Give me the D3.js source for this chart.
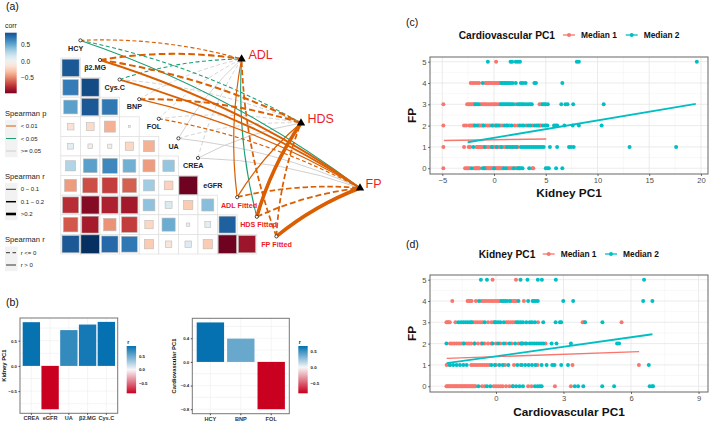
<!DOCTYPE html>
<html>
<head>
<meta charset="utf-8">
<script src="https://cdn.jsdelivr.net/npm/d3@7"></script>
<style>
  html, body { margin: 0; padding: 0; background: #fff; }
  svg { display: block; }
  text { font-family: "Liberation Sans", Arial, sans-serif; }
  .axis path { display: none; }
</style>
</head>
<body>
<svg id="fig" width="709" height="422"></svg>
<script>
// ---- data ----
const matrixVars = ["HCY", "β2.MG", "Cys.C", "BNP", "FOL", "UA", "CREA", "eGFR", "ADL Fitted", "HDS Fitted", "FP Fitted"];
const corrRows = [
  [0.85],
  [0.7, 0.9],
  [0.55, 0.85, 0.72],
  [-0.13, -0.18, -0.35, -0.01],
  [0.1, -0.06, -0.05, -0.2, -0.35],
  [0.3, 0.55, 0.65, 0.48, -0.42, 0.38],
  [-0.42, -0.65, -0.7, -0.6, 0.35, -0.22, -0.98],
  [-0.75, -0.92, -0.8, -0.83, 0.4, 0.14, -0.25, 0.42],
  [-0.62, -0.82, -0.45, -0.7, -0.2, 0.5, 0.03, 0.1, 0.82],
  [0.85, 1.0, 0.78, 0.72, -0.25, -0.12, 0.12, -0.25, -0.98, -0.85]
];
const outcomes = ["ADL", "HDS", "FP"];
// source, target, spearman r, p class
const links = [
  ["Cys.C", "HDS", -0.05, "ns"], ["BNP", "ADL", -0.04, "ns"], ["FOL", "ADL", -0.03, "ns"],
  ["FOL", "HDS", -0.04, "ns"], ["UA", "ADL", 0.04, "ns"], ["UA", "HDS", -0.04, "ns"],
  ["UA", "FP", 0.05, "ns"], ["CREA", "ADL", -0.04, "ns"], ["CREA", "HDS", 0.05, "ns"],
  ["CREA", "FP", 0.05, "ns"],
  ["HCY", "HDS", -0.07, "p05"], ["HCY", "FP", 0.07, "p05"], ["Cys.C", "ADL", -0.07, "p05"],
  ["HDS Fitted", "ADL", 0.07, "p05"],
  ["HCY", "ADL", -0.08, "p01"], ["β2.MG", "ADL", -0.22, "p01"], ["β2.MG", "HDS", -0.22, "p01"],
  ["β2.MG", "FP", 0.19, "p01"], ["Cys.C", "FP", 0.19, "p01"], ["BNP", "HDS", -0.2, "p01"],
  ["BNP", "FP", 0.1, "p01"], ["FOL", "FP", -0.09, "p01"],
  ["ADL Fitted", "ADL", 0.09, "p01"], ["ADL Fitted", "HDS", 0.11, "p01"], ["ADL Fitted", "FP", -0.17, "p01"],
  ["HDS Fitted", "HDS", 0.45, "p01"], ["HDS Fitted", "FP", -0.19, "p01"],
  ["FP Fitted", "ADL", -0.17, "p01"], ["FP Fitted", "HDS", -0.17, "p01"], ["FP Fitted", "FP", 0.45, "p01"]
];

const kidneyVars = ["CREA", "eGFR", "UA", "β2.MG", "Cys.C"];
const kidneyLoadings = [0.867, -0.86, 0.71, 0.82, 0.873];
const cardioVars = ["HCY", "BNP", "FOL"];
const cardioLoadings = [0.668, 0.394, -0.8];

// scatter x values, one list per FP level 0..5
const cMedian1 = [
  [-4.9, -2.8, -2.65, -2.5, -2.35, -1.9, -1.8, -1.7, -1.6, -1.5, -1.4, -0.9, -0.8, -0.7, -0.6, -0.5, -0.4, -0.3, -0.2, -0.1, 0.1, 0.2, 0.3, 0.4, 0.5, 0.6, 0.7, 0.85, 1.3, 1.45, 1.6, 1.75, 2.0, 2.15, 2.4, 3.7, 3.8],
  [-4.9, -2.9, -2.45, -2.3, -1.7, -1.6, -1.5, -1.4, -1.3, -1.2, -1.0, -0.7, -0.5, -0.3, -0.1, 0.1, 0.4, 0.6, 0.9, 1.1, 1.4, 1.7, 2.0, 2.3],
  [-4.9, -2.9, -2.7, -2.4, -2.25, -2.1, -1.95, -1.5, -1.4, -1.25, -1.1, -0.8, -0.6, -0.4, -0.1, 0.1, 0.3, 0.6, 0.8, 1.2, 1.5, 2.0, 2.3, 2.7, 3.1, 3.7, 4.4, 4.5, 4.9],
  [-4.9, -2.6, -2.45, -2.3, -2.15, -2.0, -1.9, -1.3, -1.15, -1.0, -0.85, -0.7, -0.5, -0.3, -0.15, 0, 0.15, 0.3, 0.5, 2.1, 4.4, 4.55],
  [-2.25, -2.05, -1.85, -1.65, -1.45, -0.85, -0.7, -0.55, -0.4, -0.25, -0.1, 0.05, 0.2, 0.35, 0.5, 0.6],
  [0.2]
];
const cMedian2 = [
  [-2.15, -1.1, -0.95, 0, 0.95, 1.15, 1.9, 2.3, 2.45, 2.6, 2.75, 3.4, 5.0, 5.15, 5.3, 6.0, 6.6],
  [-2.0, -0.9, -0.2, 0.25, 0.7, 1.25, 1.55, 1.85, 2.15, 2.6, 2.8, 3.0, 3.2, 3.4, 3.6, 3.8, 4.0, 4.2, 4.4, 4.6, 4.8, 5.4, 6.1, 7.25, 7.45, 7.7, 13.1, 17.6],
  [-1.85, -1.65, -1.0, -0.2, 0.2, 0.45, 1.0, 1.3, 1.7, 2.5, 2.85, 3.3, 3.5, 3.9, 4.1, 4.25, 4.7, 5.0, 5.15, 5.8, 5.95, 6.1, 6.8, 7.6, 8.2, 10.4],
  [-1.8, -1.65, -1.5, 0.65, 0.8, 0.95, 1.1, 1.25, 1.4, 1.55, 1.7, 1.85, 2.3, 2.45, 2.6, 2.75, 2.9, 3.1, 3.3, 3.5, 3.65, 4.7, 4.85, 5.0, 5.2, 6.5, 6.9, 7.1, 7.65, 10.6],
  [-1.1, 0.7, 0.85, 1.0, 1.15, 1.3, 1.45, 1.6, 1.8, 2.1, 2.6, 2.8, 3.05, 3.9, 4.05, 6.6],
  [-0.6, 1.6, 1.75, 2.1, 2.3, 2.5, 8.0, 8.2, 19.6]
];
const dMedian1 = [
  [-2.2, -2.15, -2.1, -2.05, -2.0, -1.95, -1.9, -1.85, -1.8, -1.75, -1.7, -1.65, -1.6, -1.55, -1.5, -1.45, -1.4, -1.35, -1.3, -1.25, -1.2, -1.15, -1.1, -1.05, -1.0, -0.95, -0.9, -0.62, -0.5, -0.1, 0.0, 0.1, 0.2, 0.3, 0.45, 0.6, 0.75, 1.43, 1.58, 2.62, 3.33],
  [-2.19, -2.05, -1.1, -1.0, -0.9, -0.8, -0.7, -0.6, -0.5, -0.4, -0.3, 0.0, 0.4, 0.8, 1.1, 1.85, 3.4, 6.35],
  [-2.04, -1.95, -1.85, -1.75, -1.65, -1.55, -1.45, -1.3, -1.2, -1.1, -0.95, -0.8, -0.65, -0.5, -0.35, -0.2, 0, 0.2, 0.45, 0.7, 1.0, 1.3, 2.2],
  [-2.2, -2.15, -2.1, -2.05, -1.8, -1.0, -0.9, -0.8, -0.7, -0.6, -0.35, -0.2, -0.1, 0.47, 0.55, 0.65, 0.75, 0.84, 1.87, 3.85, 3.92, 5.58],
  [-1.94, -1.26, -1.2, -1.14, -1.08, -0.89, -0.64, -0.55, -0.45, -0.35, -0.25, -0.15, -0.05, 0.05, 0.12, 0.18, 0.7, 0.78, 0.85, 0.9, 1.24],
  [-0.15, 0.89]
];
const dMedian2 = [
  [-0.78, -0.4, -0.25, 0.75, 0.9, 1.05, 1.2, 1.73, 1.85, 1.95, 2.03, 3.5, 3.65, 3.88, 4.72, 5.25, 6.83, 6.94, 6.98],
  [-2.05, -1.9, -1.75, -1.6, -1.45, -1.3, -0.2, -0.05, 0.15, 0.3, 0.55, 0.95, 1.15, 1.3, 1.45, 1.6, 1.75, 2.03, 2.25, 2.5, 2.6, 2.9, 3.2, 6.79],
  [-2.2, -1.42, -0.95, -0.6, -0.15, 0.1, 0.35, 0.6, 0.85, 1.1, 1.15, 1.2, 1.35, 1.5, 1.6, 1.7, 1.8, 1.9, 2.0, 2.1, 2.47, 2.69, 3.33, 5.38, 5.47],
  [-1.67, -1.55, -1.45, -1.35, -1.25, -1.15, -1.08, -0.5, -0.05, 0, 0.1, 0.2, 0.35, 0.92, 1.0, 1.1, 1.2, 1.35, 1.5, 1.6, 1.73, 2.1, 2.65, 2.84, 2.9, 3.96, 4.73],
  [-0.75, 0.25, 0.33, 0.41, 0.5, 0.62, 1.0, 1.43, 1.63, 1.7, 1.78, 1.86, 2.99, 3.43, 6.54, 6.95],
  [-0.67, -0.4, 1.09, 1.4, 1.86, 2.04, 2.66, 6.58]
];
// fit lines: [x0, y0, x1, y1]
const cFit1 = [-4.85, 1.3, 5.05, 1.375];
const cFit2 = [-2.55, 1.22, 19.5, 3.02];
const dFit1 = [-2.19, 1.31, 6.36, 1.625];
const dFit2 = [-2.19, 1.08, 6.95, 2.44];

// ---- styling ----
const salmon = "#F8766D", teal = "#00BFC4";
const pColor = { p01: "#D95F02", p05: "#1B9E77", ns: "#CCCCCC" };
const svg = d3.select("#fig");
const defs = svg.append("defs");

function label(g, x, y, str, opt = {}) {
  return g.append("text").attr("x", x).attr("y", y).attr("dy", "0.35em")
    .attr("font-size", opt.size || 7).attr("fill", opt.fill || "#222")
    .attr("font-weight", opt.weight || "normal")
    .attr("text-anchor", opt.anchor || "start").text(str);
}
function vGradient(id, colorOf, top, bottom) {
  const grad = defs.append("linearGradient").attr("id", id).attr("x1", 0).attr("x2", 0).attr("y1", 0).attr("y2", 1);
  d3.range(0, 1.001, 0.05).forEach(t => {
    grad.append("stop").attr("offset", t).attr("stop-color", colorOf(top + (bottom - top) * t));
  });
}

["(a)", "(b)", "(c)", "(d)"].forEach((s, i) => {
  label(svg, [6, 6, 406, 406][i], [6.5, 302.5, 22.5, 244][i], s, { size: 10.5, fill: "#111" });
});

// ---- (a) correlation matrix ----
const corrColor = r => d3.interpolateRdBu((r + 1) / 2);
const step = 19.6, originX = 80.4, originY = 40.4;
const nodeX = i => originX + step * i;
const nodeY = i => originY + step * i;
const matrix = svg.append("g");

corrRows.forEach((row, ri) => {
  row.forEach((r, ci) => {
    const cx = originX - step + step * ci, cy = nodeY(ri + 1) - 2;
    matrix.append("rect").attr("x", cx).attr("y", cy).attr("width", step).attr("height", step)
      .attr("fill", "#fff").attr("stroke", "#dedede").attr("stroke-width", 0.7);
    const side = (step - 1) * Math.sqrt(Math.abs(r));
    matrix.append("rect").attr("x", cx + (step - side) / 2).attr("y", cy + (step - side) / 2)
      .attr("width", side).attr("height", side).attr("fill", corrColor(r))
      .attr("stroke", "#bbb").attr("stroke-width", 0.6);
  });
});

// link layer
const outcomePos = { ADL: [241.6, 59], HDS: [301, 123], FP: [360, 188] };
const widthScale = d3.scaleLinear().domain([0, 0.5]).range([0.6, 3.9]);
const bend = 0.08;
const links_g = svg.append("g").attr("fill", "none");
links.forEach(([from, to, r, p]) => {
  const i = matrixVars.indexOf(from);
  const [x0, y0] = [nodeX(i), nodeY(i)];
  const [x1, y1] = outcomePos[to];
  const dx = x1 - x0, dy = y1 - y0;
  // quadratic bow to the left of the travel direction
  const mx = (x0 + x1) / 2 + dy * bend, my = (y0 + y1) / 2 - dx * bend;
  const path = d3.path();
  path.moveTo(x0, y0);
  path.quadraticCurveTo(mx, my, x1, y1);
  const w = widthScale(Math.abs(r));
  links_g.append("path").attr("d", path.toString())
    .attr("stroke", pColor[p]).attr("stroke-width", w)
    .attr("stroke-dasharray", r <= 0 ? `${Math.max(4, w * 3.2)} ${Math.max(2.5, w * 1.6)}` : null);
});

// nodes and labels
matrixVars.forEach((v, i) => {
  if (v === "eGFR") return;
  svg.append("circle").attr("cx", nodeX(i)).attr("cy", nodeY(i)).attr("r", 1.6)
    .attr("fill", "#fff").attr("stroke", "#222").attr("stroke-width", 0.8);
});
matrixVars.slice(0, 8).forEach((v, i) => {
  label(svg, originX - step / 2 + step * i + 5, nodeY(i) + 7.6, v, { size: 7.2, weight: "bold", anchor: "middle" });
});
matrixVars.slice(8).forEach((v, i) => {
  label(svg, [239, 258.5, 276.5][i], [205, 224, 244][i], v, { size: 7.2, weight: "bold", fill: "#EE1C25", anchor: "middle" });
});
outcomes.forEach((o, i) => {
  const [x, y] = outcomePos[o];
  svg.append("path").attr("d", d3.symbol(d3.symbolTriangle, 30)()).attr("transform", `translate(${x},${y})`).attr("fill", "#000");
  label(svg, [248.5, 307.5, 365.5][i], [55, 119, 184][i], o, { size: 12.5, fill: "#EE1C25" });
});

// (a) legends
label(svg, 5, 26, "corr", { size: 6.8 });
vGradient("corrGrad", corrColor, 0.88, -0.96);
svg.append("rect").attr("x", 5).attr("y", 32.7).attr("width", 11.7).attr("height", 60.6).attr("fill", "url(#corrGrad)");
const corrLegend = d3.scaleLinear().domain([0.88, -0.96]).range([32.7, 93.3]);
[[0.5, "0.5"], [0, "0.0"], [-0.5, "−0.5"]].forEach(([v, s]) => label(svg, 21, corrLegend(v), s, { size: 6.5 }));

function keyBlock(title, titleY, rows) {
  label(svg, 5, titleY, title, { size: 7.6 });
  const top = rows[0].y - 6.2, bottom = rows[rows.length - 1].y + 6.2;
  svg.append("rect").attr("x", 5).attr("y", top).attr("width", 12.5).attr("height", bottom - top).attr("fill", "#f2f2f2");
  rows.forEach(k => {
    svg.append("line").attr("x1", 6).attr("x2", 16).attr("y1", k.y).attr("y2", k.y)
      .attr("stroke", k.color).attr("stroke-width", k.w).attr("stroke-dasharray", k.dash || null);
    label(svg, 20.7, k.y, k.text, { size: 6 });
  });
}
keyBlock("Spearman p", 113, [
  { y: 126, color: pColor.p01, w: 1, text: "< 0.01" },
  { y: 138.5, color: pColor.p05, w: 1, text: "< 0.05" },
  { y: 151, color: pColor.ns, w: 1, text: ">= 0.05" }
]);
keyBlock("Spearman r", 176, [
  { y: 189.3, color: "#000", w: 0.8, text: "0 − 0.1" },
  { y: 201.7, color: "#000", w: 1.5, text: "0.1 − 0.2" },
  { y: 214, color: "#000", w: 2.6, text: ">0.2" }
]);
keyBlock("Spearman r", 239.3, [
  { y: 252.7, color: "#333", w: 1, dash: "4 2.5", text: "r <= 0" },
  { y: 265, color: "#333", w: 1, text: "r > 0" }
]);

// ---- (b) loading bars ----
function loadingBars(o) {
  const g = svg.append("g");
  const { left, right, top, bottom } = o;
  const x = d3.scaleBand().domain(o.cats).range([left + o.pad, right - o.pad]).paddingInner(o.inner).paddingOuter(0);
  const y = d3.scaleLinear().domain(o.yDomain).range([bottom, top]);
  const color = d3.scaleLinear().domain(o.colorDomain).range(["#CA0020", "#F7F7F7", "#0571B0"]);
  g.append("rect").attr("x", left).attr("y", top).attr("width", right - left).attr("height", bottom - top).attr("fill", "#fff");
  g.append("g").selectAll("line").data(o.yGrid).join("line")
    .attr("x1", left).attr("x2", right).attr("y1", d => y(d)).attr("y2", d => y(d)).attr("stroke", "#eeeeee").attr("stroke-width", 0.6);
  g.append("g").selectAll("line").data(o.cats).join("line")
    .attr("y1", top).attr("y2", bottom).attr("x1", d => x(d) + x.bandwidth() / 2).attr("x2", d => x(d) + x.bandwidth() / 2)
    .attr("stroke", "#eeeeee").attr("stroke-width", 0.6);
  g.append("g").selectAll("rect").data(o.values).join("rect")
    .attr("x", (d, i) => x(o.cats[i])).attr("width", x.bandwidth())
    .attr("y", d => y(Math.max(d, 0))).attr("height", d => Math.abs(y(d) - y(0)))
    .attr("fill", d => color(d));
  g.append("rect").attr("x", left).attr("y", top).attr("width", right - left).attr("height", bottom - top)
    .attr("fill", "none").attr("stroke", "#777").attr("stroke-width", 1);

  const xAxis = g.append("g").attr("class", "axis").attr("transform", `translate(0,${bottom})`)
    .call(d3.axisBottom(x).tickSize(1.5).tickPadding(1.5));
  xAxis.selectAll("text").attr("font-size", 5.6).attr("fill", "#333").attr("font-family", "Liberation Sans").attr("font-weight", "bold");
  xAxis.selectAll("line").attr("stroke", "#444");
  const yAxis = g.append("g").attr("class", "axis").attr("transform", `translate(${left},0)`)
    .call(d3.axisLeft(y).tickValues(o.yTicks).tickFormat(o.fmt).tickSize(1.5).tickPadding(1.5));
  yAxis.selectAll("text").attr("font-size", 4.4).attr("fill", "#333").attr("font-family", "Liberation Sans").attr("font-weight", "bold");
  yAxis.selectAll("line").attr("stroke", "#444");

  g.append("text").attr("transform", `translate(${o.titleX},${(top + bottom) / 2}) rotate(-90)`)
    .attr("text-anchor", "middle").attr("dy", "0.35em").attr("font-size", 5.8).attr("font-weight", "bold").attr("fill", "#111").text(o.title);

  // colour legend
  vGradient(o.gradId, color, o.legTop, o.legBottom);
  g.append("rect").attr("x", o.legX).attr("y", 346).attr("width", 9.4).attr("height", 47.3).attr("fill", `url(#${o.gradId})`);
  const legY = d3.scaleLinear().domain([o.legTop, o.legBottom]).range([346, 393.3]);
  label(g, o.legX + 0.5, 341.8, "r", { size: 5.4, weight: "bold" });
  [[0.5, "0.5"], [0, "0.0"], [-0.5, "−0.5"]].forEach(([v, s]) => {
    label(g, o.legX + 12.2, legY(v), s, { size: 4.4, weight: "bold", fill: "#222" });
  });
}
const fmt1 = d => d3.format(".1f")(d).replace("-", "−");
loadingBars({
  cats: kidneyVars, values: kidneyLoadings, left: 20, right: 117.7, top: 318, bottom: 413.3, pad: 2.7, inner: 0.075,
  yDomain: [-0.94, 0.95], yTicks: [-0.5, 0, 0.5], yGrid: [-0.75, -0.5, -0.25, 0, 0.25, 0.5, 0.75], fmt: fmt1,
  colorDomain: [-0.86, 0, 0.873], title: "Kidney PC1", titleX: 3.5, gradId: "rGradA", legX: 126.7, legTop: 0.87, legBottom: -0.86
});
loadingBars({
  cats: cardioVars, values: cardioLoadings, left: 192.3, right: 289.3, top: 318.3, bottom: 413.7, pad: 4.4, inner: 0.1,
  yDomain: [-0.876, 0.738], yTicks: [-0.8, -0.4, 0, 0.4], yGrid: [-0.8, -0.6, -0.4, -0.2, 0, 0.2, 0.4, 0.6], fmt: fmt1,
  colorDomain: [-0.8, 0, 0.668], title: "Cardiovascular PC1", titleX: 174, gradId: "rGradB", legX: 298.3, legTop: 0.68, legBottom: -0.82
});

// ---- (c), (d) scatter ----
function scatter(o) {
  const g = svg.append("g");
  const { left, right, top, bottom } = o;
  const x = d3.scaleLinear().domain(o.xDomain).range([left, right]);
  const y = d3.scaleLinear().domain([-0.27, 5.22]).range([bottom, top]);
  const grid = g.append("g");
  o.xMinor.forEach(v => grid.append("line").attr("x1", x(v)).attr("x2", x(v)).attr("y1", top).attr("y2", bottom).attr("stroke", "#f0f0f0").attr("stroke-width", 0.5));
  o.xTicks.forEach(v => grid.append("line").attr("x1", x(v)).attr("x2", x(v)).attr("y1", top).attr("y2", bottom).attr("stroke", "#e6e6e6").attr("stroke-width", 0.8));
  d3.range(0.5, 5, 1).forEach(v => grid.append("line").attr("x1", left).attr("x2", right).attr("y1", y(v)).attr("y2", y(v)).attr("stroke", "#f0f0f0").attr("stroke-width", 0.5));
  d3.range(0, 6).forEach(v => grid.append("line").attr("x1", left).attr("x2", right).attr("y1", y(v)).attr("y2", y(v)).attr("stroke", "#e6e6e6").attr("stroke-width", 0.8));

  [[o.m1, salmon], [o.m2, teal]].forEach(([levels, color]) => {
    levels.forEach((xs, fp) => {
      g.append("g").selectAll("circle").data(xs).join("circle")
        .attr("cx", d => x(d)).attr("cy", y(fp)).attr("r", 2).attr("fill", color);
    });
  });
  const fit = d3.line().x(d => x(d[0])).y(d => y(d[1]));
  [[o.fit1, salmon, 1.4], [o.fit2, teal, 1.8]].forEach(([f, color, w]) => {
    g.append("path").attr("d", fit([[f[0], f[1]], [f[2], f[3]]])).attr("fill", "none").attr("stroke", color).attr("stroke-width", w);
  });

  g.append("rect").attr("x", left).attr("y", top).attr("width", right - left).attr("height", bottom - top)
    .attr("fill", "none").attr("stroke", "#666").attr("stroke-width", 1);
  const xAxis = g.append("g").attr("class", "axis").attr("transform", `translate(0,${bottom})`)
    .call(d3.axisBottom(x).tickValues(o.xTicks).tickFormat(d => String(d).replace("-", "−")).tickSize(2).tickPadding(1.5));
  const yAxis = g.append("g").attr("class", "axis").attr("transform", `translate(${left},0)`)
    .call(d3.axisLeft(y).tickValues(d3.range(0, 6)).tickFormat(d3.format("d")).tickSize(2).tickPadding(1.5));
  [xAxis, yAxis].forEach(a => {
    a.selectAll("text").attr("font-size", 7.6).attr("fill", "#4d4d4d").attr("font-family", "Liberation Sans");
    a.selectAll("line").attr("stroke", "#333").attr("stroke-width", 0.7);
  });
  label(g, 569, bottom + o.xTitleGap, o.xTitle, { size: 11.8, weight: "bold", anchor: "middle", fill: "#111" });
  g.append("text").attr("transform", `translate(411.7,${(top + bottom) / 2}) rotate(-90)`)
    .attr("text-anchor", "middle").attr("dy", "0.35em").attr("font-size", 11.8).attr("font-weight", "bold").attr("fill", "#111").text("FP");

  // top legend
  label(g, o.legend.titleX, o.legend.y, o.legend.title, { size: 10.2, weight: "bold", fill: "#111" });
  [["Median 1", salmon, o.legend.k1], ["Median 2", teal, o.legend.k2]].forEach(([s, c, kx]) => {
    g.append("line").attr("x1", kx).attr("x2", kx + 12).attr("y1", o.legend.y).attr("y2", o.legend.y).attr("stroke", c).attr("stroke-width", 1.3);
    g.append("circle").attr("cx", kx + 6).attr("cy", o.legend.y).attr("r", 2).attr("fill", c);
    label(g, kx + 18, o.legend.y, s, { size: 8.4, weight: "bold", fill: "#111" });
  });
}
scatter({
  left: 430, right: 708, top: 57, bottom: 174, xDomain: [-6.19, 20.68], xTicks: [-5, 0, 5, 10, 15, 20], xMinor: [-2.5, 2.5, 7.5, 12.5, 17.5],
  m1: cMedian1, m2: cMedian2, fit1: cFit1, fit2: cFit2, xTitle: "Kidney PC1", xTitleGap: 19,
  legend: { title: "Cardiovascular PC1", titleX: 458.7, y: 35, k1: 563, k2: 625.7 }
});
scatter({
  left: 430, right: 708, top: 275, bottom: 392, xDomain: [-2.93, 9.42], xTicks: [0, 3, 6, 9], xMinor: [-1.5, 1.5, 4.5, 7.5],
  m1: dMedian1, m2: dMedian2, fit1: dFit1, fit2: dFit2, xTitle: "Cardiovascular PC1", xTitleGap: 19.7,
  legend: { title: "Kidney PC1", titleX: 478.7, y: 254, k1: 542.7, k2: 605 }
});
</script>
</body>
</html>
